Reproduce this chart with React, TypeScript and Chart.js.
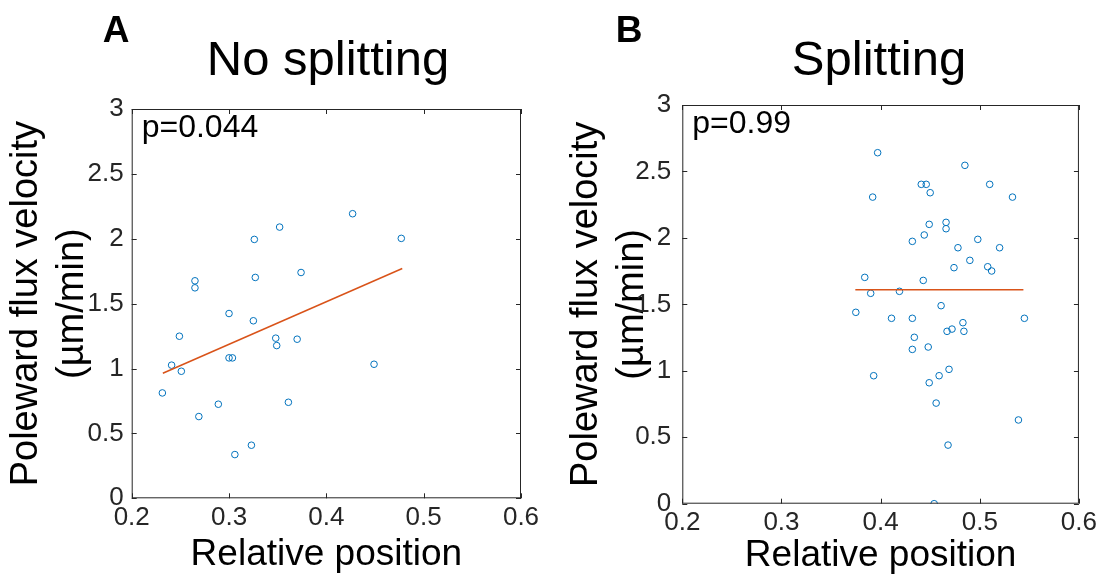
import React, { useEffect, useRef } from "react";
import { Chart, registerables } from "chart.js";

Chart.register(...registerables);

// ---------- Data ----------
const xTickLabels = ["0.2", "0.3", "0.4", "0.5", "0.6"];
const yTickLabels = ["0", "0.5", "1", "1.5", "2", "2.5", "3"];

const noSplitX = [
  0.427, 0.352, 0.326, 0.477, 0.374, 0.327, 0.265, 0.265, 0.300, 0.325,
  0.249, 0.348, 0.349, 0.370, 0.300, 0.3035, 0.241, 0.251, 0.449, 0.2315,
  0.289, 0.269, 0.361, 0.323, 0.306,
];
const noSplitY = [
  2.193, 2.09, 1.995, 2.003, 1.74, 1.702, 1.676, 1.622, 1.424, 1.368,
  1.249, 1.234, 1.177, 1.226, 1.082, 1.082, 1.026, 0.979, 1.033, 0.812,
  0.725, 0.63, 0.74, 0.409, 0.337,
];
const noSplitFitX = [0.232, 0.478];
const noSplitFitY = [0.964, 1.771];

const splitX = [
  0.397, 0.485, 0.441, 0.446, 0.51, 0.45, 0.392, 0.533, 0.449, 0.466,
  0.466, 0.444, 0.432, 0.498, 0.478, 0.52, 0.49, 0.474, 0.508, 0.512,
  0.384, 0.443, 0.39, 0.419, 0.461, 0.375, 0.411, 0.432, 0.545, 0.483,
  0.467, 0.472, 0.484, 0.434, 0.432, 0.448, 0.393, 0.459, 0.469, 0.449,
  0.456, 0.539, 0.468, 0.454,
];
const splitY = [
  2.641, 2.546, 2.403, 2.403, 2.403, 2.34, 2.307, 2.307, 2.102, 2.117,
  2.069, 2.022, 1.974, 1.989, 1.926, 1.926, 1.831, 1.776, 1.783, 1.751,
  1.703, 1.68, 1.583, 1.598, 1.49, 1.44, 1.395, 1.395, 1.395, 1.362,
  1.297, 1.314, 1.297, 1.252, 1.161, 1.179, 0.963, 0.963, 1.011, 0.91,
  0.757, 0.63, 0.441, 0.0,
];
const splitFitX = [0.3745, 0.544];
const splitFitY = [1.61, 1.61];

const FONT = "'Liberation Sans', Arial, Helvetica, sans-serif";
const TEXT = "#262626";

type PanelCfg = {
  letter: string;
  title: string;
  pText: string;
  xs: number[];
  ys: number[];
  fitX: number[];
  fitY: number[];
  width: number;
  height: number;
  padTop: number;
  padRight: number;
  yWidth: number;
  xHeight: number;
  yTitlePad: number;
  xTitlePad: number;
  yTickPad: number;
  letterX: number;
  titleX: number;
};

const zip = (a: number[], b: number[]) => a.map((v, i) => ({ x: v, y: b[i] }));

function Panel({ cfg, left }: { cfg: PanelCfg; left: number }) {
  const ref = useRef<HTMLCanvasElement | null>(null);
  useEffect(() => {
    if (!ref.current) return;
    const decor = {
      id: "decor",
      afterDraw(chart: any) {
        const { ctx, chartArea: a, scales } = chart;
        ctx.save();
        // box
        ctx.strokeStyle = TEXT;
        ctx.lineWidth = 1;
        ctx.strokeRect(a.left + 0.5, a.top + 0.5, a.right - a.left - 1, a.bottom - a.top - 1);
        // inward ticks on all four sides
        const tl = 5;
        ctx.beginPath();
        scales.x.ticks.forEach((t: any) => {
          const px = Math.round(scales.x.getPixelForValue(t.value)) + 0.5;
          ctx.moveTo(px, a.bottom);
          ctx.lineTo(px, a.bottom - tl);
          ctx.moveTo(px, a.top);
          ctx.lineTo(px, a.top + tl);
        });
        scales.y.ticks.forEach((t: any) => {
          const py = Math.round(scales.y.getPixelForValue(t.value)) + 0.5;
          ctx.moveTo(a.left, py);
          ctx.lineTo(a.left + tl, py);
          ctx.moveTo(a.right, py);
          ctx.lineTo(a.right - tl, py);
        });
        ctx.stroke();
        // p-value
        ctx.fillStyle = "#000";
        ctx.font = `32px ${FONT}`;
        ctx.textAlign = "left";
        ctx.textBaseline = "alphabetic";
        ctx.fillText(cfg.pText, a.left + 10, a.top + 28);
        // title
        ctx.font = `49px ${FONT}`;
        ctx.textAlign = "center";
        ctx.fillText(cfg.title, cfg.titleX, 75);
        // panel letter
        ctx.font = `bold 37px ${FONT}`;
        ctx.fillText(cfg.letter, cfg.letterX, 42);
        ctx.restore();
      },
    };
    const chart = new Chart(ref.current, {
      type: "scatter",
      data: {
        datasets: [
          {
            type: "line",
            data: zip(cfg.fitX, cfg.fitY),
            borderColor: "#D95319",
            borderWidth: 1.5,
            pointRadius: 0,
            fill: false,
          } as any,
          {
            data: zip(cfg.xs, cfg.ys),
            borderColor: "#0072BD",
            backgroundColor: "rgba(0,0,0,0)",
            borderWidth: 1,
            pointRadius: 3.3,
            pointStyle: "circle",
          },
        ],
      },
      options: {
        animation: false,
        responsive: false,
        maintainAspectRatio: false,
        events: [],
        layout: { padding: { top: cfg.padTop, right: cfg.padRight, left: 0, bottom: 0 } },
        plugins: { legend: { display: false }, tooltip: { enabled: false }, title: { display: false } },
        scales: {
          x: {
            type: "linear",
            min: 0.2,
            max: 0.6,
            afterFit: (s: any) => {
              s.height = cfg.xHeight;
            },
            afterBuildTicks: (s: any) => {
              s.ticks = xTickLabels.map((v) => ({ value: parseFloat(v) }));
            },
            grid: { display: false, drawTicks: false },
            border: { display: false },
            ticks: {
              padding: 4,
              color: TEXT,
              font: { family: FONT, size: 26 },
              callback: (_v: any, i: number) => xTickLabels[i],
            },
            title: {
              display: true,
              text: "Relative position",
              color: "#000",
              font: { family: FONT, size: 37, lineHeight: 1.0 },
              padding: { top: 0, bottom: cfg.xTitlePad },
            },
          },
          y: {
            type: "linear",
            min: 0,
            max: 3,
            afterFit: (s: any) => {
              s.width = cfg.yWidth;
            },
            afterBuildTicks: (s: any) => {
              s.ticks = yTickLabels.map((v) => ({ value: parseFloat(v) }));
            },
            grid: { display: false, drawTicks: false },
            border: { display: false },
            ticks: {
              padding: cfg.yTickPad,
              color: TEXT,
              font: { family: FONT, size: 26 },
              callback: (_v: any, i: number) => yTickLabels[i],
            },
            title: {
              display: true,
              text: ["Poleward flux velocity", "(\u00b5m/min)"],
              color: "#000",
              font: { family: FONT, size: 38, lineHeight: 1.2 },
              padding: { top: cfg.yTitlePad, bottom: 0 },
            },
          },
        },
      },
      plugins: [decor],
    } as any);
    return () => chart.destroy();
  }, [cfg]);
  return (
    <canvas
      ref={ref}
      width={cfg.width}
      height={cfg.height}
      style={{ position: "absolute", left, top: 0, width: cfg.width, height: cfg.height }}
    />
  );
}

const panelA: PanelCfg = {
  letter: "A",
  title: "No splitting",
  pText: "p=0.044",
  xs: noSplitX,
  ys: noSplitY,
  fitX: noSplitFitX,
  fitY: noSplitFitY,
  width: 551,
  height: 574,
  padTop: 109,
  padRight: 30,
  yWidth: 131.7,
  xHeight: 75.7,
  yTitlePad: 4,
  xTitlePad: 1,
  yTickPad: 8,
  letterX: 116,
  titleX: 328,
};

const panelB: PanelCfg = {
  letter: "B",
  title: "Splitting",
  pText: "p=0.99",
  xs: splitX,
  ys: splitY,
  fitX: splitFitX,
  fitY: splitFitY,
  width: 550,
  height: 574,
  padTop: 105,
  padRight: 20.7,
  yWidth: 131.3,
  xHeight: 70.3,
  yTitlePad: 13,
  xTitlePad: 0,
  yTickPad: 11,
  letterX: 629 - 551,
  titleX: 879 - 551,
};

export default function App() {
  return (
    <div style={{ position: "absolute", left: 0, top: 0, width: 1101, height: 574, background: "#fff" }}>
      <Panel cfg={panelA} left={0} />
      <Panel cfg={panelB} left={551} />
    </div>
  );
}
